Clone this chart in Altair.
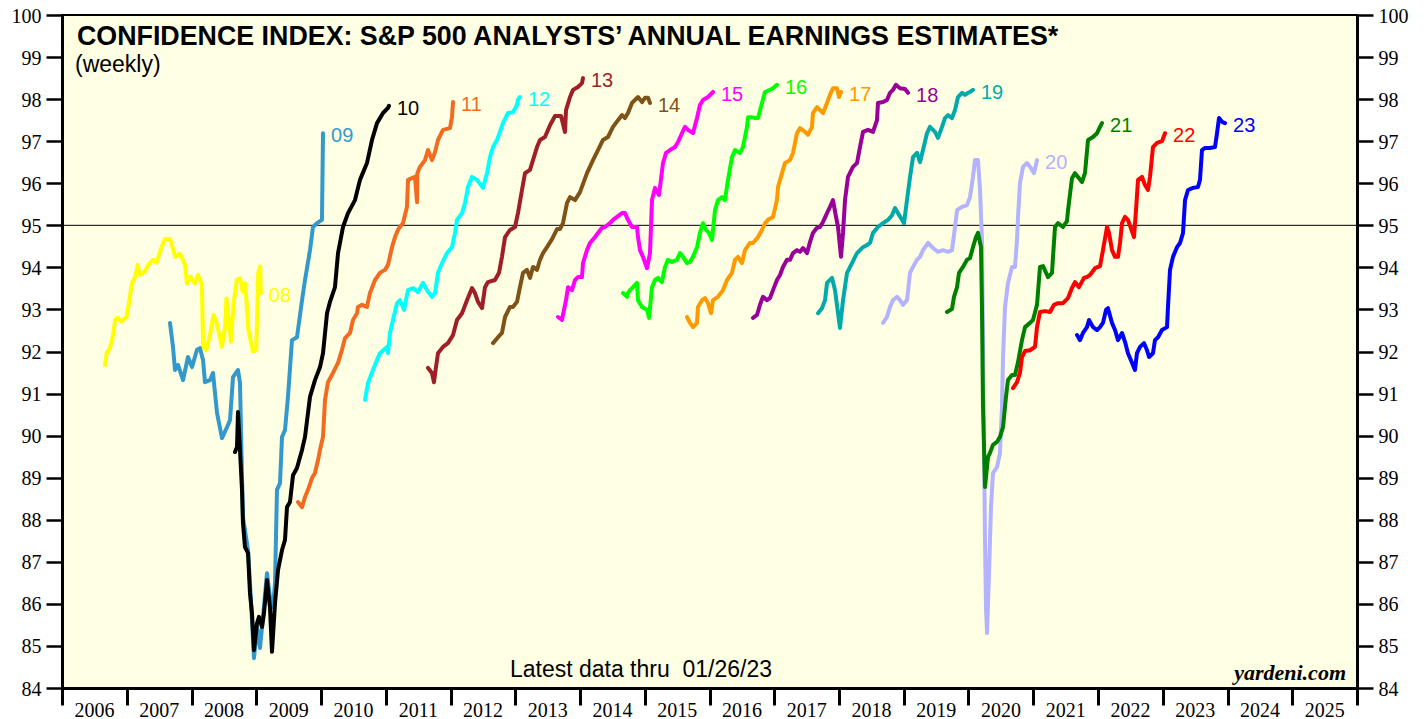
import altair as alt
import pandas as pd

SERIES = ["08", "09", "10", "11", "12", "13", "14", "15", "16", "17", "18", "19", "20", "21", "22", "23"]
COLORS = ["#FFFF00", "#3399CC", "#000000", "#F26B21", "#00FFFF", "#A01E28", "#7F5217", "#FF00FF",
          "#00FF00", "#FF9900", "#990099", "#00AAAA", "#B3B3FF", "#008000", "#FF0000", "#0000FF"]

S08 = [(2006.664, 91.68), (2006.69, 91.96), (2006.74, 92.08), (2006.79, 92.39), (2006.82, 92.75), (2006.86, 92.80),
       (2006.92, 92.71), (2007.00, 92.83), (2007.08, 93.62), (2007.13, 93.78), (2007.17, 94.06), (2007.20, 93.82),
       (2007.28, 93.90), (2007.33, 94.06), (2007.41, 94.18), (2007.46, 94.11), (2007.54, 94.49), (2007.59, 94.67),
       (2007.67, 94.67), (2007.75, 94.25), (2007.82, 94.33), (2007.90, 94.06), (2007.93, 93.62), (2007.98, 93.78),
       (2008.05, 93.62), (2008.10, 93.82), (2008.16, 93.58), (2008.18, 92.11), (2008.23, 92.03), (2008.29, 92.43),
       (2008.34, 92.87), (2008.39, 92.67), (2008.47, 92.11), (2008.52, 92.59), (2008.54, 93.26), (2008.61, 92.23),
       (2008.65, 93.14), (2008.70, 93.70), (2008.75, 93.74), (2008.79, 93.42), (2008.83, 93.62), (2008.88, 92.51),
       (2008.95, 92.00), (2009.00, 92.03), (2009.03, 93.86), (2009.06, 94.02), (2009.07, 93.38)]
S09 = [(2007.668, 92.68), (2007.714, 92.11), (2007.745, 91.56), (2007.792, 91.68), (2007.869, 91.32), (2007.946, 91.87),
       (2008.008, 91.63), (2008.085, 92.04), (2008.131, 92.08), (2008.178, 91.80), (2008.208, 91.27), (2008.286, 91.32),
       (2008.332, 91.49), (2008.394, 90.54), (2008.471, 89.94), (2008.548, 90.20), (2008.595, 90.37), (2008.641, 91.39),
       (2008.718, 91.56), (2008.749, 91.25), (2008.780, 89.02), (2008.795, 88.06), (2008.873, 87.28), (2008.903, 86.50),
       (2008.965, 84.71), (2009.012, 85.45), (2009.058, 84.95), (2009.104, 85.69), (2009.166, 86.73), (2009.212, 86.16),
       (2009.259, 85.92), (2009.290, 86.50), (2009.320, 88.71), (2009.367, 88.87), (2009.398, 89.97), (2009.444, 90.13),
       (2009.490, 90.92), (2009.552, 92.27), (2009.629, 92.34), (2009.707, 93.22), (2009.753, 93.70), (2009.830, 94.41),
       (2009.876, 94.96), (2009.938, 95.05), (2010.015, 95.13), (2010.031, 97.19)]
S10 = [(2008.672, 89.61), (2008.703, 89.73), (2008.718, 90.56), (2008.749, 89.66), (2008.780, 88.71), (2008.795, 87.92),
       (2008.826, 87.35), (2008.873, 87.21), (2008.903, 86.26), (2008.934, 85.78), (2008.965, 84.90), (2009.012, 85.54),
       (2009.042, 85.69), (2009.089, 85.45), (2009.120, 85.78), (2009.166, 86.57), (2009.212, 85.92), (2009.243, 84.86),
       (2009.290, 86.02), (2009.336, 86.80), (2009.398, 87.28), (2009.444, 87.52), (2009.475, 88.30), (2009.521, 88.42),
       (2009.568, 89.06), (2009.629, 89.23), (2009.707, 89.66), (2009.753, 89.97), (2009.830, 90.92), (2009.907, 91.32),
       (2009.985, 91.63), (2010.031, 91.96), (2010.093, 92.91), (2010.139, 93.18), (2010.216, 93.53), (2010.263, 94.34),
       (2010.340, 94.96), (2010.417, 95.29), (2010.525, 95.60), (2010.602, 96.08), (2010.710, 96.48), (2010.788, 97.03),
       (2010.865, 97.43), (2010.958, 97.67), (2011.035, 97.79), (2011.050, 97.84)]
S11 = [(2009.645, 88.42), (2009.707, 88.30), (2009.753, 88.54), (2009.799, 88.71), (2009.861, 88.99), (2009.907, 89.11),
       (2009.954, 89.42), (2009.985, 89.66), (2010.031, 89.97), (2010.062, 90.85), (2010.108, 91.27), (2010.185, 91.49),
       (2010.263, 91.73), (2010.324, 92.04), (2010.371, 92.32), (2010.448, 92.44), (2010.494, 92.75), (2010.556, 92.91),
       (2010.571, 93.06), (2010.633, 93.11), (2010.710, 93.06), (2010.757, 93.39), (2010.834, 93.70), (2010.911, 93.87),
       (2010.988, 93.94), (2011.035, 94.06), (2011.097, 94.48), (2011.143, 94.72), (2011.189, 94.89), (2011.220, 94.96),
       (2011.266, 95.05), (2011.328, 95.44), (2011.344, 96.08), (2011.405, 96.12), (2011.452, 96.15), (2011.483, 95.55),
       (2011.488, 96.24), (2011.529, 96.39), (2011.606, 96.55), (2011.653, 96.79), (2011.714, 96.55), (2011.761, 96.74),
       (2011.807, 97.03), (2011.884, 97.27), (2011.992, 97.31), (2012.023, 97.57), (2012.039, 97.93)]
S12 = [(2010.680, 90.85), (2010.726, 91.25), (2010.803, 91.56), (2010.865, 91.80), (2010.911, 91.96), (2011.019, 92.11),
       (2011.035, 91.96), (2011.066, 92.44), (2011.112, 92.75), (2011.174, 93.15), (2011.220, 93.22), (2011.282, 92.99),
       (2011.344, 93.46), (2011.421, 93.51), (2011.498, 93.41), (2011.575, 93.63), (2011.637, 93.46), (2011.714, 93.30),
       (2011.761, 93.39), (2011.807, 93.87), (2011.869, 94.10), (2011.946, 94.34), (2012.023, 94.48), (2012.070, 94.82),
       (2012.100, 95.13), (2012.178, 95.29), (2012.224, 95.53), (2012.270, 95.91), (2012.332, 96.15), (2012.409, 96.08),
       (2012.502, 95.89), (2012.564, 96.24), (2012.610, 96.62), (2012.656, 96.86), (2012.718, 97.03), (2012.764, 97.22),
       (2012.811, 97.43), (2012.888, 97.67), (2012.965, 97.69), (2013.027, 97.86), (2013.042, 97.98), (2013.073, 98.05)]
S13 = [(2011.653, 91.61), (2011.714, 91.49), (2011.745, 91.27), (2011.776, 91.63), (2011.807, 91.96), (2011.884, 92.11),
       (2011.961, 92.20), (2012.039, 92.39), (2012.100, 92.75), (2012.178, 92.91), (2012.255, 93.22), (2012.332, 93.51),
       (2012.378, 93.39), (2012.425, 93.18), (2012.487, 93.03), (2012.533, 93.53), (2012.579, 93.65), (2012.687, 93.70),
       (2012.749, 93.87), (2012.795, 94.25), (2012.842, 94.72), (2012.919, 94.89), (2012.996, 94.96), (2013.042, 95.29),
       (2013.104, 95.84), (2013.151, 96.24), (2013.228, 96.32), (2013.274, 96.55), (2013.336, 96.86), (2013.382, 97.03),
       (2013.459, 97.10), (2013.537, 97.38), (2013.614, 97.60), (2013.707, 97.60), (2013.768, 97.22), (2013.784, 97.74),
       (2013.846, 98.05), (2013.892, 98.22), (2013.969, 98.29), (2014.031, 98.38), (2014.046, 98.50)]
S14 = [(2012.657, 92.20), (2012.734, 92.34), (2012.795, 92.44), (2012.842, 92.82), (2012.919, 93.06), (2012.965, 93.06),
       (2013.027, 93.18), (2013.073, 93.53), (2013.120, 93.87), (2013.181, 93.94), (2013.228, 93.75), (2013.274, 94.01),
       (2013.336, 93.94), (2013.382, 94.18), (2013.429, 94.34), (2013.490, 94.48), (2013.568, 94.67), (2013.645, 94.91),
       (2013.691, 94.91), (2013.737, 95.05), (2013.799, 95.53), (2013.846, 95.67), (2013.923, 95.60), (2014.000, 95.79),
       (2014.108, 96.24), (2014.201, 96.55), (2014.278, 96.79), (2014.355, 97.03), (2014.432, 97.10), (2014.510, 97.34),
       (2014.587, 97.50), (2014.649, 97.62), (2014.695, 97.55), (2014.741, 97.67), (2014.803, 97.91), (2014.849, 97.98),
       (2014.896, 98.05), (2014.958, 97.93), (2015.004, 98.03), (2015.050, 98.03), (2015.081, 97.91)]
S15 = [(2013.660, 92.82), (2013.722, 92.75), (2013.753, 92.99), (2013.784, 93.22), (2013.815, 93.53), (2013.876, 93.46),
       (2013.923, 93.70), (2013.969, 93.77), (2014.031, 93.77), (2014.046, 94.10), (2014.108, 94.41), (2014.154, 94.58),
       (2014.232, 94.72), (2014.278, 94.82), (2014.340, 94.94), (2014.386, 94.96), (2014.463, 95.05), (2014.510, 95.13),
       (2014.571, 95.20), (2014.649, 95.29), (2014.695, 95.29), (2014.741, 95.13), (2014.803, 94.96), (2014.880, 94.96),
       (2014.896, 94.72), (2014.927, 94.41), (2014.973, 94.25), (2015.035, 93.98), (2015.081, 94.34), (2015.112, 95.60),
       (2015.158, 95.89), (2015.220, 95.72), (2015.282, 96.48), (2015.328, 96.72), (2015.390, 96.79), (2015.467, 96.86),
       (2015.514, 96.98), (2015.575, 97.19), (2015.622, 97.34), (2015.668, 97.27), (2015.745, 97.19), (2015.807, 97.55),
       (2015.853, 97.86), (2015.900, 97.98), (2015.977, 98.05), (2016.054, 98.17)]
S16 = [(2014.664, 93.39), (2014.726, 93.30), (2014.741, 93.39), (2014.772, 93.46), (2014.819, 93.53), (2014.880, 93.63),
       (2014.896, 93.22), (2014.958, 93.06), (2015.035, 92.99), (2015.066, 92.80), (2015.112, 93.53), (2015.158, 93.70),
       (2015.205, 93.75), (2015.266, 93.65), (2015.313, 94.01), (2015.359, 94.18), (2015.421, 94.13), (2015.498, 94.18),
       (2015.545, 94.34), (2015.591, 94.25), (2015.653, 94.10), (2015.699, 94.13), (2015.745, 94.25), (2015.807, 94.48),
       (2015.853, 94.82), (2015.900, 95.05), (2015.946, 94.89), (2015.992, 94.82), (2016.039, 94.65), (2016.085, 95.36),
       (2016.131, 95.60), (2016.193, 95.67), (2016.239, 95.60), (2016.286, 96.08), (2016.347, 96.62), (2016.394, 96.79),
       (2016.471, 96.72), (2016.517, 96.86), (2016.579, 97.34), (2016.595, 97.57), (2016.656, 97.57), (2016.703, 97.55),
       (2016.749, 97.55), (2016.811, 97.91), (2016.857, 98.17), (2016.934, 98.22), (2016.981, 98.26), (2017.042, 98.34)]
S17 = [(2015.652, 92.82), (2015.699, 92.68), (2015.745, 92.58), (2015.807, 92.68), (2015.822, 93.06), (2015.884, 93.22),
       (2015.931, 93.27), (2015.977, 93.15), (2016.023, 92.91), (2016.054, 93.22), (2016.131, 93.30), (2016.209, 93.46),
       (2016.270, 93.70), (2016.347, 93.87), (2016.394, 94.18), (2016.440, 94.25), (2016.502, 94.10), (2016.548, 94.41),
       (2016.625, 94.58), (2016.672, 94.58), (2016.749, 94.72), (2016.811, 94.89), (2016.857, 95.05), (2016.903, 95.13),
       (2016.981, 95.20), (2017.042, 95.60), (2017.058, 95.91), (2017.120, 96.24), (2017.166, 96.48), (2017.243, 96.55),
       (2017.290, 96.72), (2017.351, 97.19), (2017.398, 97.31), (2017.475, 97.22), (2017.521, 97.15), (2017.583, 97.34),
       (2017.598, 97.67), (2017.660, 97.81), (2017.707, 97.74), (2017.753, 97.67), (2017.815, 97.91), (2017.861, 98.10),
       (2017.907, 98.26), (2017.969, 98.26), (2018.000, 98.05), (2018.031, 98.17)]
S18 = [(2016.672, 92.80), (2016.734, 92.87), (2016.780, 93.11), (2016.826, 93.30), (2016.888, 93.22), (2016.934, 93.27),
       (2016.981, 93.46), (2017.042, 93.70), (2017.089, 93.82), (2017.135, 94.01), (2017.197, 94.18), (2017.243, 94.18),
       (2017.290, 94.34), (2017.351, 94.41), (2017.398, 94.37), (2017.444, 94.46), (2017.506, 94.34), (2017.552, 94.60),
       (2017.598, 94.82), (2017.660, 94.94), (2017.707, 94.96), (2017.753, 95.08), (2017.815, 95.29), (2017.861, 95.44),
       (2017.907, 95.60), (2017.954, 95.20), (2017.985, 94.96), (2018.031, 94.25), (2018.062, 94.82), (2018.093, 95.60),
       (2018.139, 96.15), (2018.216, 96.39), (2018.278, 96.48), (2018.324, 96.86), (2018.371, 97.22), (2018.448, 97.27),
       (2018.525, 97.22), (2018.587, 97.50), (2018.602, 97.91), (2018.680, 97.93), (2018.741, 97.98), (2018.788, 98.15),
       (2018.834, 98.22), (2018.880, 98.34), (2018.942, 98.26), (2019.019, 98.24), (2019.066, 98.15)]
S19 = [(2017.676, 92.91), (2017.737, 93.03), (2017.784, 93.22), (2017.815, 93.63), (2017.892, 93.75), (2017.938, 93.46),
       (2017.985, 92.91), (2018.015, 92.56), (2018.062, 93.22), (2018.124, 93.87), (2018.201, 94.10), (2018.278, 94.34),
       (2018.324, 94.41), (2018.371, 94.48), (2018.432, 94.53), (2018.479, 94.58), (2018.525, 94.82), (2018.602, 94.96),
       (2018.680, 95.05), (2018.757, 95.13), (2018.819, 95.24), (2018.865, 95.41), (2018.911, 95.29), (2018.973, 95.13),
       (2019.004, 95.05), (2019.050, 95.60), (2019.097, 96.15), (2019.143, 96.62), (2019.205, 96.72), (2019.251, 96.50),
       (2019.297, 96.79), (2019.359, 97.19), (2019.405, 97.34), (2019.483, 97.22), (2019.529, 97.08), (2019.591, 97.34),
       (2019.637, 97.55), (2019.683, 97.62), (2019.745, 97.55), (2019.792, 97.74), (2019.838, 98.05), (2019.900, 98.15),
       (2019.946, 98.10), (2019.992, 98.15), (2020.023, 98.17), (2020.069, 98.22)]
S20 = [(2018.680, 92.68), (2018.741, 92.82), (2018.788, 93.06), (2018.834, 93.22), (2018.896, 93.30), (2018.942, 93.22),
       (2018.988, 93.11), (2019.050, 93.22), (2019.097, 93.87), (2019.143, 94.01), (2019.205, 94.18), (2019.251, 94.25),
       (2019.297, 94.41), (2019.375, 94.58), (2019.452, 94.46), (2019.529, 94.37), (2019.606, 94.41), (2019.683, 94.37),
       (2019.745, 94.41), (2019.792, 94.96), (2019.823, 95.36), (2019.900, 95.44), (2019.977, 95.48), (2020.023, 95.67),
       (2020.069, 96.15), (2020.100, 96.55), (2020.147, 96.55), (2020.178, 95.84), (2020.208, 94.65), (2020.224, 92.27),
       (2020.239, 89.90), (2020.255, 87.52), (2020.270, 85.92), (2020.286, 85.31), (2020.317, 86.73), (2020.347, 88.30),
       (2020.378, 89.11), (2020.440, 89.25), (2020.486, 89.59), (2020.517, 90.68), (2020.533, 91.87), (2020.564, 93.06),
       (2020.610, 93.63), (2020.672, 94.01), (2020.718, 94.01), (2020.749, 94.65), (2020.765, 95.20), (2020.795, 96.01),
       (2020.842, 96.39), (2020.903, 96.48), (2020.950, 96.39), (2021.012, 96.24), (2021.058, 96.55)]
S21 = [(2019.668, 92.94), (2019.745, 93.01), (2019.776, 93.30), (2019.823, 93.53), (2019.854, 93.87), (2019.915, 94.01),
       (2019.977, 94.18), (2020.023, 94.22), (2020.069, 94.48), (2020.116, 94.72), (2020.147, 94.82), (2020.193, 94.48),
       (2020.208, 93.06), (2020.224, 90.68), (2020.255, 88.78), (2020.286, 89.25), (2020.301, 89.49), (2020.332, 89.59),
       (2020.378, 89.78), (2020.440, 89.85), (2020.486, 89.97), (2020.533, 90.20), (2020.579, 90.92), (2020.610, 91.32),
       (2020.672, 91.44), (2020.718, 91.44), (2020.765, 91.75), (2020.826, 92.27), (2020.873, 92.58), (2020.950, 92.68),
       (2020.996, 92.75), (2021.058, 93.11), (2021.104, 94.01), (2021.151, 94.03), (2021.228, 93.77), (2021.290, 93.87),
       (2021.305, 94.25), (2021.336, 94.96), (2021.382, 95.05), (2021.459, 94.96), (2021.521, 95.10), (2021.537, 95.36),
       (2021.598, 96.12), (2021.645, 96.24), (2021.691, 96.15), (2021.753, 96.03), (2021.799, 96.24), (2021.846, 97.03),
       (2021.923, 97.10), (2021.985, 97.19), (2022.031, 97.34), (2022.062, 97.43)]
S22 = [(2020.687, 91.13), (2020.749, 91.27), (2020.795, 91.49), (2020.826, 91.87), (2020.873, 92.01), (2020.950, 92.03),
       (2021.027, 92.11), (2021.058, 92.58), (2021.104, 92.94), (2021.181, 92.96), (2021.259, 92.94), (2021.321, 93.11),
       (2021.382, 93.15), (2021.459, 93.15), (2021.537, 93.27), (2021.598, 93.51), (2021.645, 93.65), (2021.706, 93.53),
       (2021.784, 93.75), (2021.830, 93.77), (2021.876, 93.82), (2021.954, 93.98), (2022.031, 94.03), (2022.077, 94.41),
       (2022.139, 94.96), (2022.170, 94.82), (2022.216, 94.41), (2022.263, 94.25), (2022.309, 94.25), (2022.340, 94.58),
       (2022.371, 95.05), (2022.417, 95.20), (2022.463, 95.13), (2022.502, 94.96), (2022.556, 94.72), (2022.587, 95.36),
       (2022.618, 96.08), (2022.680, 96.15), (2022.726, 95.96), (2022.772, 95.84), (2022.803, 96.15), (2022.849, 96.86),
       (2022.911, 96.96), (2022.988, 97.00), (2023.035, 97.19)]
S23 = [(2021.676, 92.39), (2021.722, 92.27), (2021.768, 92.44), (2021.830, 92.58), (2021.861, 92.75), (2021.923, 92.58),
       (2021.985, 92.51), (2022.031, 92.58), (2022.077, 92.68), (2022.124, 92.99), (2022.154, 93.03), (2022.216, 92.68),
       (2022.263, 92.51), (2022.309, 92.27), (2022.371, 92.44), (2022.417, 92.23), (2022.463, 91.96), (2022.525, 91.73),
       (2022.571, 91.56), (2022.602, 91.96), (2022.649, 92.11), (2022.710, 92.20), (2022.757, 92.03), (2022.788, 91.87),
       (2022.849, 91.96), (2022.880, 92.27), (2022.927, 92.34), (2022.988, 92.51), (2023.066, 92.58), (2023.081, 93.06),
       (2023.112, 93.94), (2023.158, 94.25), (2023.220, 94.48), (2023.267, 94.58), (2023.313, 94.82), (2023.344, 95.60),
       (2023.390, 95.84), (2023.467, 95.89), (2023.544, 95.91), (2023.575, 96.08), (2023.606, 96.79), (2023.653, 96.84),
       (2023.730, 96.84), (2023.807, 96.86), (2023.838, 97.19), (2023.869, 97.55), (2023.915, 97.46), (2023.962, 97.43)]

YEARS = list(range(2006, 2027))
Y_TICKS = list(range(84, 101))
TITLE = "CONFIDENCE INDEX: S&P 500 ANALYSTS\u2019 ANNUAL EARNINGS ESTIMATES*"
SUBTITLE = "(weekly)"
NOTE = "Latest data thru\u00a0\u00a001/26/23"
SOURCE = "yardeni.com"

ALL = [S08, S09, S10, S11, S12, S13, S14, S15, S16, S17, S18, S19, S20, S21, S22, S23]

rows = []
labels = []
for name, pts in zip(SERIES, ALL):
    for i, (x, v) in enumerate(pts):
        rows.append({"series": name, "year": x, "value": v, "idx": i})
    labels.append({"series": name, "year": pts[-1][0], "value": pts[-1][1]})
df = pd.DataFrame(rows)
lab = pd.DataFrame(labels)

xscale = alt.Scale(domain=[2006, 2026], nice=False, zero=False)
yscale = alt.Scale(domain=[84, 100], nice=False, zero=False)
cscale = alt.Scale(domain=SERIES, range=COLORS)

xaxis = alt.Axis(values=YEARS, tickSize=17, tickWidth=3, domainWidth=3, domainColor="black", tickColor="black",
                 labelOffset=32, labelExpr="datum.value >= 2026 ? '' : datum.label", format="d",
                 labelFont="Liberation Serif", labelFontSize=20, labelColor="black", labelPadding=-5,
                 labelOverlap=False, labelFlush=False, grid=False, title=None)
yaxis_l = alt.Axis(values=Y_TICKS, orient="left", tickSize=16, tickWidth=2.5, domainWidth=3, domainColor="black",
                   tickColor="black", labelFont="Liberation Serif", labelFontSize=20, labelColor="black",
                   labelPadding=5, labelOffset=1, grid=False, title=None, labelOverlap=False)
yaxis_r = alt.Axis(values=Y_TICKS, orient="right", tickSize=16, tickWidth=2.5, domainWidth=3, domainColor="black",
                   tickColor="black", labelFont="Liberation Serif", labelFontSize=20, labelColor="black",
                   labelPadding=5, labelOffset=1, grid=False, title=None, labelOverlap=False)

lines = alt.Chart(df).mark_line(strokeWidth=4, strokeJoin="round", strokeCap="round").encode(
    x=alt.X("year:Q", scale=xscale, axis=xaxis),
    y=alt.Y("value:Q", scale=yscale, axis=yaxis_l),
    color=alt.Color("series:N", scale=cscale, legend=None),
    detail="series:N",
    order="idx:Q",
)

texts = alt.Chart(lab).mark_text(align="left", baseline="middle", dx=8, dy=3, fontSize=20,
                                 font="Liberation Sans").encode(
    x=alt.X("year:Q", scale=xscale),
    y=alt.Y("value:Q", scale=yscale, axis=None),
    text="series:N",
    color=alt.Color("series:N", scale=cscale, legend=None),
)

rule = alt.Chart(pd.DataFrame({"v": [95]})).mark_rule(color="black", strokeWidth=1).encode(
    y=alt.Y("v:Q", scale=yscale, axis=yaxis_r)
)

def txt(s, x, y, **kw):
    return alt.Chart(pd.DataFrame({"t": [s]})).mark_text(**kw).encode(
        x=alt.value(x), y=alt.value(y), text="t:N")

title = txt(TITLE, 15, 30, align="left", baseline="alphabetic", font="Liberation Sans", fontSize=26.8,
            fontWeight="bold", color="black")
sub = txt(SUBTITLE, 13, 57, align="left", baseline="alphabetic", font="Liberation Sans", fontSize=23,
          color="black")
note = txt(NOTE, 579, 662, align="center", baseline="alphabetic", font="Liberation Sans", fontSize=23,
           color="black")
src = txt(SOURCE, 1284, 665, align="right", baseline="alphabetic", font="Liberation Serif", fontSize=22,
          fontWeight="bold", fontStyle="italic", color="black")

chart = alt.layer(rule, lines, texts, title, sub, note, src).resolve_scale(y="independent").properties(
    width=1295, height=673,
    autosize=alt.AutoSizeParams(type="none"),
    padding={"left": 54, "top": 7, "right": 54, "bottom": 32},
).configure_view(fill="#FFFFE3", stroke="black", strokeWidth=2)

chart.save("out.html", embed_options={"renderer": "svg", "actions": False})
